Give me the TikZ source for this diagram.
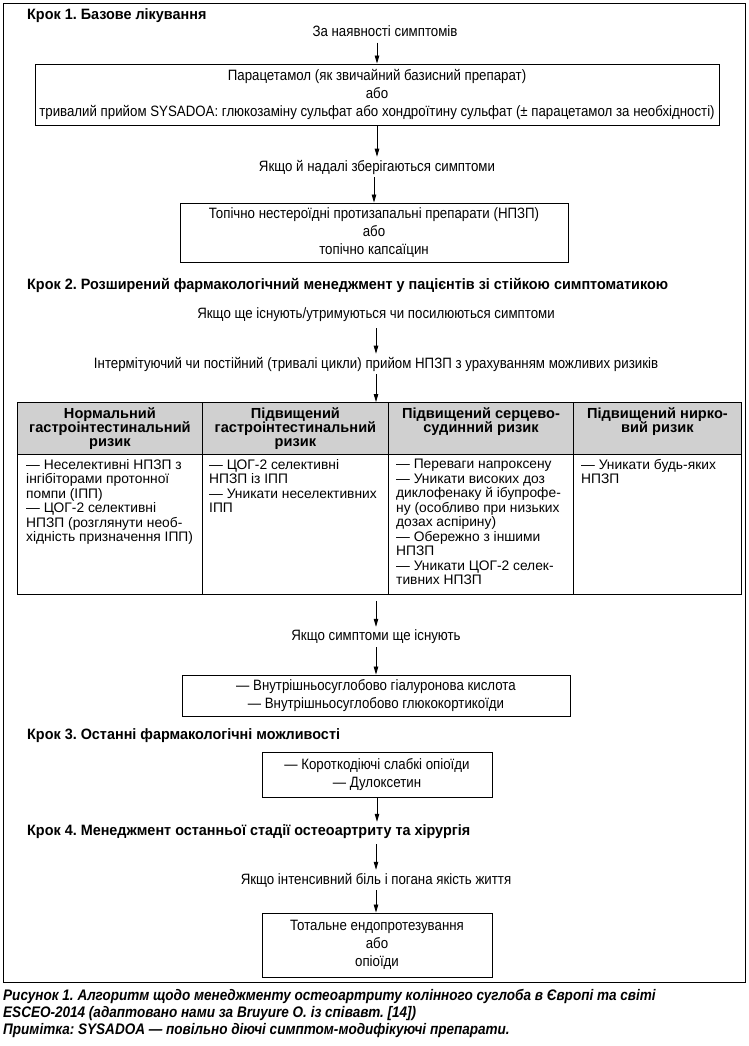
\documentclass[tikz,border=0pt]{standalone}
\usepackage{fontspec}
\setmainfont{Liberation Sans}
\newfontfamily\cond{Liberation Sans}[FakeStretch=0.885]
\newfontfamily\condh{Liberation Sans}[FakeStretch=0.96]
\usetikzlibrary{arrows.meta}
\definecolor{hdrgrey}{HTML}{D0D0D0}
\frenchspacing
\tikzset{
  txt/.style={font=\cond\fontsize{15bp}{18bp}\selectfont, inner sep=3bp, align=center},
  head/.style={font=\condh\bfseries\fontsize{15bp}{17bp}\selectfont, inner sep=0pt, anchor=west},
  box/.style={draw, line width=0.9bp, font=\cond\fontsize{15bp}{17.8bp}\selectfont, align=center, inner sep=0pt},
  arr/.style={draw, line width=0.8bp, -{Triangle[length=8bp,width=4.5bp]}},
  hcell/.style={draw, line width=0.9bp, fill=hdrgrey, inner sep=0pt},
  bcell/.style={draw, line width=0.9bp, inner sep=0pt},
  htxt/.style={font=\bfseries\fontsize{14.6bp}{14bp}\selectfont, align=center, inner sep=0pt},
  btxt/.style={font=\fontsize{13.8bp}{14.5bp}\selectfont, align=left, inner sep=0pt, anchor=north west},
  capt/.style={font=\cond\bfseries\itshape\fontsize{15.3bp}{17bp}\selectfont, align=left, inner sep=0pt, anchor=north west}
}
\begin{document}
\begin{tikzpicture}[x=1bp,y=-1bp]
\useasboundingbox (0,0) rectangle (749,1046);
\node[draw, line width=1bp, minimum width=741bp, minimum height=978bp, inner sep=0pt] (frame) at (374.5,493) {};

\node[head] (k1) at (27,16) {Крок 1. Базове лікування};
\node[txt] (t1) at (385,31) {За наявності симптомів};
\node[box, minimum width=684bp, minimum height=61bp] (b1) at (377,94.5) {Парацетамол (як звичайний базисний препарат)\\або\\тривалий прийом SYSADOA: глюкозаміну сульфат або хондроїтину сульфат (± парацетамол за необхідності)};
\node[txt] (t2) at (377,167) {Якщо й надалі зберігаються симптоми};
\node[box, minimum width=388bp, minimum height=59bp] (b2) at (374,232.5) {Топічно нестероїдні протизапальні препарати (НПЗП)\\або\\топічно капсаїцин};

\node[head] (k2) at (27,285) {Крок 2. Розширений фармакологічний менеджмент у пацієнтів зі стійкою симптоматикою};
\node[txt] (t3) at (376,315) {Якщо ще існують/утримуються чи посилюються симптоми};
\node[txt] (t4) at (376,364) {Інтермітуючий чи постійний (тривалі цикли) прийом НПЗП з урахуванням можливих ризиків};

% table
\node[hcell, minimum width=185bp, minimum height=52bp, anchor=north west] (h1) at (17,402) {};
\node[hcell, minimum width=186bp, minimum height=52bp, anchor=north west] (h2) at (202,402) {};
\node[hcell, minimum width=185bp, minimum height=52bp, anchor=north west] (h3) at (388,402) {};
\node[hcell, minimum width=168bp, minimum height=52bp, anchor=north west] (h4) at (573,402) {};
\node[bcell, minimum width=185bp, minimum height=140bp, anchor=north west] (c1) at (17,454) {};
\node[bcell, minimum width=186bp, minimum height=140bp, anchor=north west] (c2) at (202,454) {};
\node[bcell, minimum width=185bp, minimum height=140bp, anchor=north west] (c3) at (388,454) {};
\node[bcell, minimum width=168bp, minimum height=140bp, anchor=north west] (c4) at (573,454) {};

\node[htxt] (ht1) at (h1.center) {Нормальний\\гастроінтестинальний\\ризик};
\node[htxt] (ht2) at (h2.center) {Підвищений\\гастроінтестинальний\\ризик};
\node[htxt, anchor=north] (ht3) at ([yshift=-5bp]h3.north) {Підвищений серцево-\\судинний ризик};
\node[htxt, anchor=north] (ht4) at ([yshift=-5bp]h4.north) {Підвищений нирко-\\вий ризик};

\node[btxt] (bt1) at ([shift={(9bp,-5bp)}]c1.north west) {— Неселективні НПЗП з\\інгібіторами протонної\\помпи (ІПП)\\— ЦОГ-2 селективні\\НПЗП (розглянути необ-\\хідність призначення ІПП)};
\node[btxt] (bt2) at ([shift={(7bp,-5bp)}]c2.north west) {— ЦОГ-2 селективні\\НПЗП із ІПП\\— Уникати неселективних\\ІПП};
\node[btxt] (bt3) at ([shift={(8bp,-5bp)}]c3.north west) {— Переваги напроксену\\— Уникати високих доз\\диклофенаку й ібупрофе-\\ну (особливо при низьких\\дозах аспірину)\\— Обережно з іншими\\НПЗП\\— Уникати ЦОГ-2 селек-\\тивних НПЗП};
\node[btxt] (bt4) at ([shift={(8bp,-5bp)}]c4.north west) {— Уникати будь-яких\\НПЗП};

\node[txt] (t5) at (376,637) {Якщо симптоми ще існують};
\node[box, minimum width=388bp, minimum height=41bp] (b3) at (376,695.5) {— Внутрішньосуглобово гіалуронова кислота\\— Внутрішньосуглобово глюкокортикоїди};

\node[head] (k3) at (27,736) {Крок 3. Останні фармакологічні можливості};
\node[box, minimum width=230bp, minimum height=45bp] (b4) at (377,774.5) {— Короткодіючі слабкі опіоїди\\— Дулоксетин};

\node[head] (k4) at (27,832) {Крок 4. Менеджмент останньої стадії остеоартриту та хірургія};
\node[txt] (t6) at (376,880) {Якщо інтенсивний біль і погана якість життя};
\node[box, minimum width=230bp, minimum height=64bp] (b5) at (377,945) {Тотальне ендопротезування\\або\\опіоїди};

\node[capt] (cap) at (3,989) {Рисунок 1. Алгоритм щодо менеджменту остеоартриту колінного суглоба в Європі та світі\\ESCEO-2014 (адаптовано нами за Bruyure O. із співавт. [14])\\Примітка: SYSADOA — повільно діючі симптом-модифікуючі препарати.};

% connectors
\coordinate (a1s) at ([yshift=-3bp]t1.south -| b1.north);
\draw[arr] (a1s) -- (b1.north);
\draw[arr] (b1.south) -- (b1.south |- t2.north);
\draw[arr] (t2.south -| b2.north) -- (b2.north);
\coordinate (a4s) at ([yshift=-3bp]t3.south);
\draw[arr] (a4s) -- (t4.north);
\draw[arr] (t4.south) -- (t4.south |- h2.north);
\coordinate (a6s) at ([yshift=-6bp]c2.south -| t5.north);
\draw[arr] (a6s) -- (t5.north);
\draw[arr] (t5.south) -- (b3.north);
\coordinate (a8e) at ([yshift=3bp]k4.north -| b4.south);
\draw[arr] (b4.south) -- (a8e);
\coordinate (a9s) at ([yshift=-5bp]k4.south -| t6.north);
\draw[arr] (a9s) -- (t6.north);
\draw[arr] (t6.south) -- (t6.south |- b5.north);
\end{tikzpicture}
\end{document}
